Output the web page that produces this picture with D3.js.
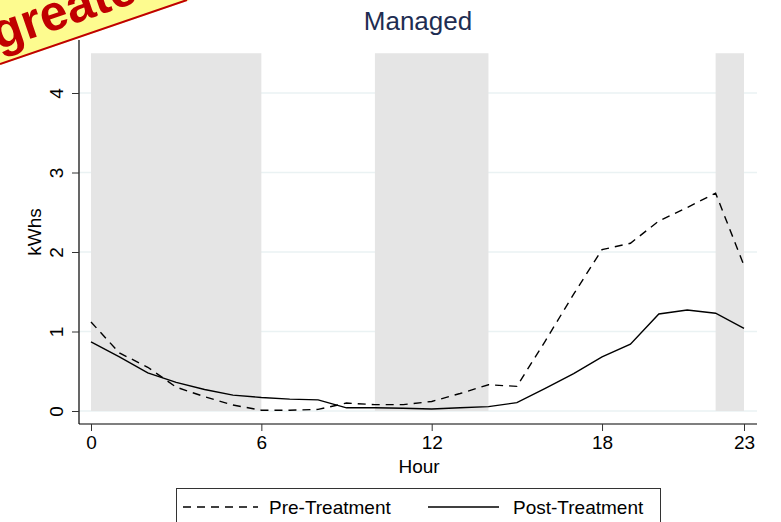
<!DOCTYPE html>
<html><head><meta charset="utf-8">
<script src="https://cdn.jsdelivr.net/npm/d3@7"></script>
<style>body{margin:0;background:#fff}svg{display:block}text{font-family:"Liberation Sans",Arial,Helvetica,sans-serif}</style>
</head><body>
<svg id="c" width="781" height="522"></svg>
<script>
const hours = d3.range(0, 24);
const preTreatment = [1.12,0.73,0.55,0.30,0.18,0.075,0.01,0.01,0.02,0.10,0.08,0.08,0.12,0.22,0.33,0.31,0.88,1.47,2.03,2.11,2.39,2.56,2.74,1.83];
const postTreatment = [0.87,0.68,0.48,0.36,0.27,0.20,0.17,0.15,0.14,0.04,0.04,0.035,0.025,0.04,0.055,0.105,0.285,0.47,0.68,0.84,1.22,1.27,1.23,1.04];
const shadedRanges = [[0,6],[10,14],[22,23]];
const xTicks = [0,6,12,18,23];
const yTicks = [0,1,2,3,4];
const title = "Managed";
const xLabel = "Hour";
const yLabel = "kWhs";
const seriesNames = ["Pre-Treatment","Post-Treatment"];

const svg = d3.select("#c");
const x = d3.scaleLinear().domain([0,23]).range([91,744]);
const y = d3.scaleLinear().domain([0,4]).range([411,93]);

// gridlines
svg.append("g").selectAll("line").data(yTicks).join("line")
  .attr("x1",79).attr("x2",757).attr("y1",d=>y(d)).attr("y2",d=>y(d))
  .attr("stroke","#eaf2f3").attr("stroke-width",1.5);

// shading
svg.append("g").selectAll("rect").data(shadedRanges).join("rect")
  .attr("x",d=>x(d[0])).attr("width",d=>x(d[1])-x(d[0]))
  .attr("y",y(4.5)).attr("height",y(0)-y(4.5))
  .attr("fill","#e5e5e5");

// lines
const line = d3.line().x((d,i)=>x(hours[i])).y(d=>y(d));
svg.append("path").datum(preTreatment).attr("d",line)
  .attr("fill","none").attr("stroke","#000").attr("stroke-width",1.4)
  .attr("stroke-dasharray","8,6");
svg.append("path").datum(postTreatment).attr("d",line)
  .attr("fill","none").attr("stroke","#000").attr("stroke-width",1.4);

// y axis
const yAxis = svg.append("g").attr("transform","translate(79,0)")
  .call(d3.axisLeft(y).tickValues(yTicks).tickFormat(d3.format("d")).tickSize(7).tickPadding(4));
yAxis.select(".domain").attr("d","M0,40V424").attr("stroke","#000").attr("stroke-width",1.2);
yAxis.selectAll(".tick line").attr("stroke","#333");
yAxis.selectAll(".tick text").attr("font-size",19).attr("fill","#000")
  .attr("transform","rotate(-90)").attr("text-anchor","middle")
  .attr("x",0).attr("y",-16).attr("dy",0);

// x axis
const xAxis = svg.append("g").attr("transform","translate(0,424)")
  .call(d3.axisBottom(x).tickValues(xTicks).tickFormat(d3.format("d")).tickSize(7).tickPadding(5));
xAxis.select(".domain").attr("d","M79,0H757").attr("stroke","#000").attr("stroke-width",1.2);
xAxis.selectAll(".tick line").attr("stroke","#333");
xAxis.selectAll(".tick text").attr("font-size",19).attr("fill","#000");

// labels
svg.append("text").attr("x",419).attr("y",473).attr("text-anchor","middle")
  .attr("font-size",19).text(xLabel);
svg.append("text").attr("transform","translate(41,232) rotate(-90)").attr("text-anchor","middle")
  .attr("font-size",19).text(yLabel);
svg.append("text").attr("x",418).attr("y",30).attr("text-anchor","middle")
  .attr("font-size",26).attr("fill","#1e2d52").text(title);

// legend
svg.append("rect").attr("x",176.5).attr("y",488.5).attr("width",484).attr("height",50)
  .attr("fill","#fff").attr("stroke","#333").attr("stroke-width",1);
const lg = [{x1:183,x2:258,tx:269,dash:"8,6"},{x1:428,x2:499,tx:513,dash:null}];
lg.forEach((l,i)=>{
  svg.append("line").attr("x1",l.x1).attr("x2",l.x2).attr("y1",507).attr("y2",507)
    .attr("stroke","#000").attr("stroke-width",1.4).attr("stroke-dasharray",l.dash);
  svg.append("text").attr("x",l.tx).attr("y",514).attr("font-size",19).text(seriesNames[i]);
});

// banner
svg.append("path").attr("d","M0,0H190L0,65Z").attr("fill","#fdfb8f");
svg.append("line").attr("x1",0).attr("y1",64).attr("x2",187).attr("y2",0)
  .attr("stroke","#c00000").attr("stroke-width",2);
svg.append("text").attr("transform","translate(-2,50) rotate(-19)")
  .attr("font-size",50).attr("font-weight","bold").attr("fill","#c00000").text("greatest");
</script>
</body></html>
